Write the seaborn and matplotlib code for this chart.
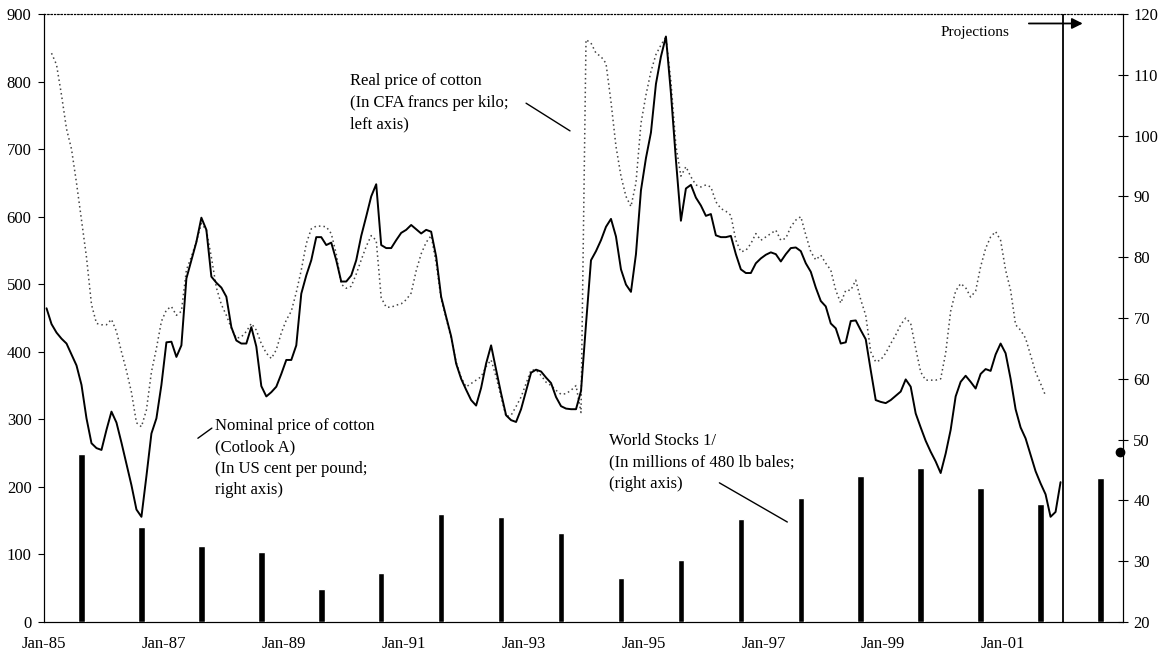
import numpy as np
import pandas as pd
import seaborn as sns
import matplotlib.pyplot as plt

sns.set_theme(style="white")
plt.rcParams["font.family"] = ["Liberation Serif", "DejaVu Serif"]
plt.rcParams.update({"text.color": "black", "xtick.color": "black",
                     "ytick.color": "black", "axes.labelcolor": "black"})

# Nominal price of cotton (Cotlook A), US cents per pound, monthly from Jan-85 (right axis)
nominal_price = [
    71.6, 69.0, 67.6, 66.6, 65.8, 64.0, 62.2, 59.0, 53.5, 49.4, 48.6, 48.3,  # 1985
    51.6, 54.6, 52.8, 49.5, 46.0, 42.5, 38.5, 37.3, 44.0, 51.0, 53.5, 59.0,  # 1986
    66.0, 66.1, 63.6, 65.5, 76.5, 79.5, 82.5, 86.5, 84.5, 76.8, 75.8, 75.0,  # 1987
    73.5, 68.5, 66.3, 65.8, 65.8, 68.5, 65.3, 58.8, 57.1, 57.8, 58.7, 60.8,  # 1988
    63.1, 63.1, 65.5, 74.0, 77.0, 79.5, 83.3, 83.3, 82.0, 82.4, 79.5, 76.0,  # 1989
    76.0, 77.0, 79.5, 83.5, 86.7, 90.0, 92.0, 82.0, 81.5, 81.5, 82.8, 84.0,  # 1990
    84.5, 85.3, 84.6, 83.9, 84.5, 84.2, 80.1, 73.5, 70.2, 67.0, 62.5, 60.0,  # 1991
    58.2, 56.5, 55.6, 58.5, 62.5, 65.5, 61.5, 57.6, 54.0, 53.2, 52.9, 55.0,  # 1992
    58.0, 61.0, 61.5, 61.2, 60.2, 59.3, 57.0, 55.5, 55.1, 55.0, 55.0, 58.0,  # 1993
    69.0, 79.5, 81.0, 82.8, 85.0, 86.3, 83.4, 78.0, 75.5, 74.3, 80.5, 91.0,  # 1994
    96.3, 100.5, 108.5, 113.0, 116.3, 107.0, 96.0, 86.0, 91.3, 91.9, 89.8, 88.5,  # 1995
    86.8, 87.1, 83.6, 83.3, 83.3, 83.5, 80.5, 78.0, 77.4, 77.4, 79.0, 79.8,  # 1996
    80.4, 80.8, 80.5, 79.3, 80.5, 81.5, 81.6, 81.0, 79.0, 77.6, 75.0, 72.8,  # 1997
    71.9, 69.1, 68.3, 65.8, 66.0, 69.5, 69.6, 68.0, 66.5, 61.4, 56.5, 56.2,  # 1998
    56.0, 56.5, 57.2, 57.9, 59.9, 58.7, 54.3, 52.0, 49.8, 48.0, 46.4, 44.5,  # 1999
    47.7, 51.6, 57.1, 59.5, 60.5, 59.5, 58.4, 60.8, 61.6, 61.3, 64.0, 65.8,  # 2000
    64.2, 60.0, 55.0, 52.0, 50.2, 47.5, 44.8, 42.8, 41.0, 37.3, 38.1, 43.0,  # 2001
]

# Real price of cotton, CFA francs per kilo, monthly from Feb-85 (left axis)
real_price = [
    842, 825, 780, 730, 700, 650, 595, 540, 470, 442, 440,  # 1985 (Feb-Dec)
    440, 448, 430, 400, 372, 340, 295, 289, 314, 370, 405, 445,  # 1986
    462, 467, 454, 460, 521, 541, 563, 590, 580, 540, 495, 470,  # 1987
    454, 435, 420, 422, 430, 442, 432, 412, 398, 390, 403, 428,  # 1988
    447, 460, 488, 521, 560, 582, 586, 586, 585, 575, 545, 500,  # 1989
    494, 497, 515, 536, 556, 572, 565, 480, 466, 466, 469, 471,  # 1990
    477, 487, 520, 545, 562, 572, 531, 478, 450, 420, 385, 362,  # 1991
    348, 353, 358, 363, 378, 388, 363, 333, 304, 306, 319, 333,  # 1992
    353, 373, 373, 365, 355, 350, 343, 337, 338, 343, 350, 310,  # 1993
    862, 857, 842, 837, 827, 770, 704, 660, 630, 615, 650, 738,  # 1994
    780, 815, 840, 854, 866, 800, 705, 660, 674, 659, 647, 644,  # 1995
    647, 644, 622, 612, 608, 602, 565, 548, 550, 560, 575, 565,  # 1996
    570, 575, 580, 565, 568, 585, 595, 600, 573, 548, 536, 543,  # 1997
    531, 521, 491, 472, 491, 491, 506, 477, 454, 400, 385, 388,  # 1998
    398, 412, 425, 440, 450, 442, 405, 370, 358, 358, 358, 360,  # 1999
    398, 460, 490, 501, 495, 481, 490, 526, 553, 570, 578, 565,  # 2000
    521, 491, 440, 432, 420, 395, 370, 353, 335,  # 2001 (Jan-Sep)
]

# World stocks, millions of 480 lb bales, start of each cotton year (August)
stock_years = list(range(1985, 2003))
world_stocks = [47.6, 35.6, 32.5, 31.5, 25.4, 28.0, 37.8, 37.3, 34.6,
                27.2, 30.2, 36.9, 40.4, 44.0, 45.3, 42.0, 39.4, 43.7]

projected_price = 48.0  # Dec-02 projection of nominal price

tick_labels = ["Jan-85", "Jan-87", "Jan-89", "Jan-91", "Jan-93",
               "Jan-95", "Jan-97", "Jan-99", "Jan-01"]

# month index 0 = Jan-85, points sit in the middle of each month slot
nominal = pd.DataFrame({"month": np.arange(len(nominal_price)) + 0.5,
                        "price": nominal_price})
real = pd.DataFrame({"month": np.arange(len(real_price)) + 1.5,
                     "price": real_price})
stocks = pd.DataFrame({"month": [(y - 1985) * 12 + 7.5 for y in stock_years],
                       "stocks": world_stocks})

fig = plt.figure(figsize=(11.71, 6.55), dpi=100)
ax = fig.add_axes([0.0376, 0.0504, 0.9214, 0.9282])
ax2 = ax.twinx()

sns.lineplot(data=real, x="month", y="price", ax=ax, color="#444444", lw=1.1)
ax.lines[-1].set_linestyle((0, (1, 2)))

ax2.bar(stocks["month"], stocks["stocks"] - 20, bottom=20, width=1.3,
        color="black", zorder=3)
sns.lineplot(data=nominal, x="month", y="price", ax=ax2, color="black", lw=1.4)
ax2.plot([215.5], [projected_price], "o", color="black", ms=6, clip_on=False)

ax.axvline(204, color="black", lw=1.3)

ax.set_xlim(0, 216)
ax.set_ylim(0, 900)
ax2.set_ylim(20, 120)
ax.set_xticks(range(0, 193, 24))
ax.set_xticklabels(tick_labels)
ax.set_yticks(range(0, 901, 100))
ax2.set_yticks(range(20, 121, 10))
for a in (ax, ax2):
    a.set_xlabel("")
    a.set_ylabel("")
    for name, sp in a.spines.items():
        sp.set_color("black")
        sp.set_linewidth(0.8)
    a.spines["top"].set_linestyle((0, (1, 2)))

ax.tick_params(axis="x", direction="out", length=4, width=0.8, labelsize=12, pad=6)
ax.tick_params(axis="y", direction="out", length=4, width=0.8, labelsize=12, pad=5)
ax2.tick_params(axis="y", direction="inout", length=7, width=0.8, labelsize=12, pad=4)

txt = dict(fontsize=12, va="top", ha="left", linespacing=1.45, color="black")
ax.text(61.2, 812, "Real price of cotton\n(In CFA francs per kilo;\nleft axis)", **txt)
ax.plot([96.5, 105.3], [768, 727], color="black", lw=1)
ax.text(34.2, 302, "Nominal price of cotton\n(Cotlook A)\n(In US cent per pound;\nright axis)", **txt)
ax.plot([30.8, 33.6], [272, 287], color="black", lw=1)
ax.text(113.2, 280, "World Stocks 1/\n(In millions of 480 lb bales;\n(right axis)", **txt)
ax.plot([135.2, 148.8], [206, 148], color="black", lw=1)

ax.text(186.4, 872, "Projections", fontsize=11, ha="center", va="center", color="black")
ax.annotate("", xy=(208.5, 886), xytext=(196.6, 886),
            arrowprops=dict(arrowstyle="-|>", color="black", lw=1.3,
                            mutation_scale=16))

fig.savefig("out.png", dpi=100)
